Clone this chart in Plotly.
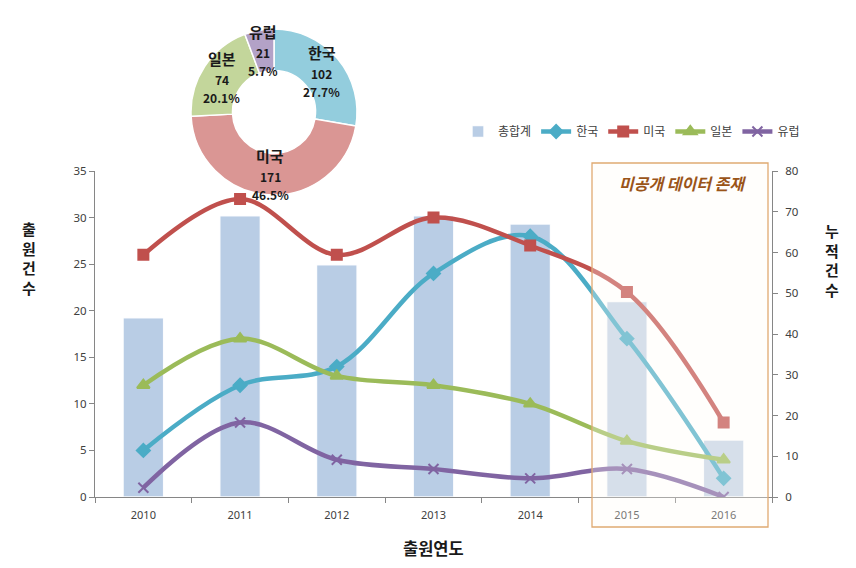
import math
import plotly.graph_objects as go

# ---------------- data ----------------
years = ['2010', '2011', '2012', '2013', '2014', '2015', '2016']
korea = [5, 12, 14, 24, 28, 17, 2]
usa = [26, 32, 26, 30, 27, 22, 8]
japan = [12, 17, 13, 12, 10, 6, 4]
europe = [1, 8, 4, 3, 2, 3, 0]
totals = [44, 69, 57, 69, 67, 48, 14]

pie_labels = ['한국', '미국', '일본', '유럽']
pie_values = [102, 171, 74, 21]

left_ticks = [0, 5, 10, 15, 20, 25, 30, 35]
right_ticks = [0, 10, 20, 30, 40, 50, 60, 70, 80]

# ---------------- geometry ----------------
W, H = 856, 568
L, R, T, B = 95, 84, 20, 71
PW, PH = W - L - R, H - T - B
AX_TOP = 171  # pixel y of top of the line chart
dom_top = (H - B - AX_TOP) / PH


def px(x):
    return (x - L) / PW


def py(y):
    return (H - B - y) / PH


FONT = "Noto Sans CJK KR, Malgun Gothic, sans-serif"
NUMFONT = "Noto Sans, Liberation Sans, sans-serif"
TXT = "#404040"
AXC = "#868686"

fig = go.Figure()

bar_colors = ['#B9CDE5'] * 5 + ['#C5D3E6'] * 2
fig.add_trace(go.Bar(
    x=years, y=totals, name='총합계', yaxis='y',
    marker=dict(color=bar_colors, line=dict(color='rgba(255,255,255,0.9)', width=1.5)),
    width=0.42,
))

series = [
    ('한국', korea, '#4BACC6', 'diamond', 10),
    ('미국', usa, '#C0504D', 'square', 10),
    ('일본', japan, '#9BBB59', 'triangle-up', 11),
    ('유럽', europe, '#8064A2', 'x-thin', 10),
]
for name, vals, col, sym, sz in series:
    fig.add_trace(go.Scatter(
        x=years, y=vals, name=name, yaxis='y2', mode='lines+markers',
        line=dict(color=col, width=4.5, shape='spline', smoothing=1.0),
        marker=dict(symbol=sym, size=sz, color=col,
                    line=dict(color=col, width=2)),
    ))

# donut
cx, cy, rad = 274, 112, 83
pie_colors = ['#93CDDD', '#DA9694', '#C3D69B', '#B3A2C7']
fig.add_trace(go.Pie(
    labels=pie_labels, values=pie_values, hole=0.5, sort=False,
    direction='clockwise', rotation=0, textinfo='none', showlegend=False,
    marker=dict(colors=pie_colors, line=dict(color='white', width=1.5)),
    domain=dict(x=[px(cx - rad), px(cx + rad)], y=[py(cy + rad), py(cy - rad)]),
    hoverinfo='label+value+percent',
))

annotations = []
total = sum(pie_values)
cum = 0
for lab, v in zip(pie_labels, pie_values):
    mid = (cum + v / 2) / total * 2 * math.pi
    cum += v
    rm = rad * 0.75
    tx = cx + rm * math.sin(mid)
    ty = cy - rm * math.cos(mid)
    lines = [(lab, 15, -19), (str(v), 12, 2), (f"{v / total * 100:.1f}%", 12, 20)]
    for text, fs, dy in lines:
        annotations.append(dict(
            x=px(tx), y=py(ty + dy), xref='paper', yref='paper',
            text=f"<b>{text}</b>", showarrow=False,
            font=dict(family=FONT, size=fs, color='#1a1a1a'),
            xanchor='center', yanchor='middle'))

# axis titles
annotations.append(dict(x=px(29), y=py(258), xref='paper', yref='paper',
                        text='<b>출<br>원<br>건<br>수</b>', showarrow=False,
                        font=dict(family=FONT, size=15, color='#1a1a1a'),
                        xanchor='center', yanchor='middle'))
annotations.append(dict(x=px(832), y=py(260), xref='paper', yref='paper',
                        text='<b>누<br>적<br>건<br>수</b>', showarrow=False,
                        font=dict(family=FONT, size=15, color='#1a1a1a'),
                        xanchor='center', yanchor='middle'))
annotations.append(dict(x=px(433), y=py(548), xref='paper', yref='paper',
                        text='<b>출원연도</b>', showarrow=False,
                        font=dict(family=FONT, size=16.5, color='#1a1a1a'),
                        xanchor='center', yanchor='middle'))
annotations.append(dict(x=px(682), y=py(183), xref='paper', yref='paper',
                        text='<b><i>미공개 데이터 존재</i></b>', showarrow=False,
                        font=dict(family=FONT, size=16, color='#9A5418'),
                        xanchor='center', yanchor='middle'))

shapes = [dict(type='rect', xref='paper', yref='paper',
               x0=px(592), x1=px(768), y0=py(527), y1=py(163),
               line=dict(color='#E0AA72', width=1.3),
               fillcolor='rgba(255,252,244,0.30)', layer='above')]

fig.update_layout(
    width=W, height=H,
    margin=dict(l=L, r=R, t=T, b=B, autoexpand=False),
    paper_bgcolor='white', plot_bgcolor='white',
    font=dict(family=FONT, size=11, color=TXT),
    barmode='overlay',
    xaxis=dict(type='category', range=[-0.5, 6.5], showline=True, linecolor=AXC,
               linewidth=1, ticks='outside', tickson='boundaries', ticklen=5,
               tickcolor=AXC, showgrid=False, zeroline=False,
               tickfont=dict(family=NUMFONT, size=11, color=TXT), domain=[0, 1],
               ticklabelstandoff=8),
    yaxis=dict(side='right', range=[0, 80], tickvals=right_ticks, showline=True,
               linecolor=AXC, ticks='outside', ticklen=5, tickcolor=AXC,
               showgrid=False, zeroline=False, domain=[0, dom_top],
               tickfont=dict(family=NUMFONT, size=11.5, color=TXT), ticklabelstandoff=5),
    yaxis2=dict(side='left', overlaying='y', range=[0, 35], tickvals=left_ticks,
                showline=True, linecolor=AXC, ticks='outside', ticklen=5,
                tickcolor=AXC, showgrid=False, zeroline=False,
                tickfont=dict(family=NUMFONT, size=11.5, color=TXT)),
    legend=dict(orientation='h', x=px(458), y=py(117), xanchor='left', yanchor='top',
                font=dict(size=12, color=TXT, family=FONT), bgcolor='rgba(0,0,0,0)',
                traceorder='normal', itemwidth=30),
    annotations=annotations,
    shapes=shapes,
)

fig.write_html("out.html", config={'displayModeBar': False},
               post_script="document.body.style.margin='0';document.body.style.padding='0';")
